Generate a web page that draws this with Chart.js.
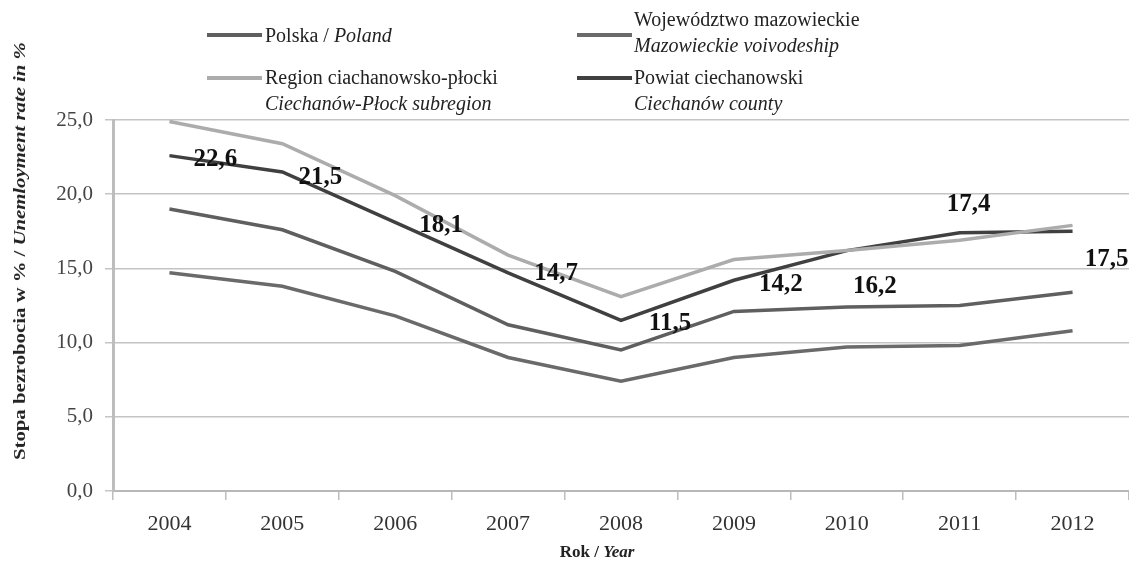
<!DOCTYPE html>
<html>
<head>
<meta charset="utf-8">
<script src="https://cdn.jsdelivr.net/npm/chart.js@4.4.1/dist/chart.umd.min.js"></script>
<style>
    body { margin: 0; background: #fff; }
    #wrap { position: relative; width: 1129px; height: 566px; font-family: "Liberation Serif", "Times New Roman", serif; color: #222; overflow: hidden; }
    #chart { position: absolute; left: 0; top: 0; }
    .sw { position: absolute; height: 4px; width: 55px; }
    .lg { position: absolute; font-size: 20px; line-height: 26px; white-space: nowrap; }
    #ytitle { position: absolute; left: 20px; top: 251px; transform: translate(-50%, -50%) rotate(-90deg) scaleX(1.22); font-weight: bold; font-size: 17px; white-space: nowrap; color: #222; }
    #xtitle { position: absolute; left: 597px; top: 552px; transform: translate(-50%, -50%); font-weight: bold; font-size: 17px; white-space: nowrap; color: #222; }
</style>
</head>
<body>
<div id="wrap">
    <canvas id="chart" width="1129" height="566"></canvas>

    <div class="sw" style="left:207px;top:33px;background:#5f5f5f"></div>
    <div class="lg" style="left:265px;top:22px">Polska / <i>Poland</i></div>

    <div class="sw" style="left:577px;top:33px;background:#6a6a6a"></div>
    <div class="lg" style="left:634px;top:6px">Województwo mazowieckie<br><i>Mazowieckie voivodeship</i></div>

    <div class="sw" style="left:207px;top:76px;background:#acacac"></div>
    <div class="lg" style="left:265px;top:64px">Region ciachanowsko-płocki<br><i>Ciechanów-Płock subregion</i></div>

    <div class="sw" style="left:577px;top:76px;background:#404040"></div>
    <div class="lg" style="left:634px;top:64px">Powiat ciechanowski<br><i>Ciechanów county</i></div>

    <div id="ytitle">Stopa bezrobocia w % / <i>Unemloyment rate in %</i></div>
    <div id="xtitle">Rok / <i>Year</i></div>
</div>

<script>
// values
const years = ['2004', '2005', '2006', '2007', '2008', '2009', '2010', '2011', '2012'];
const polska = [19.0, 17.6, 14.8, 11.2, 9.5, 12.1, 12.4, 12.5, 13.4];
const mazowieckie = [14.7, 13.8, 11.8, 9.0, 7.4, 9.0, 9.7, 9.8, 10.8];
const region = [24.9, 23.4, 19.9, 15.9, 13.1, 15.6, 16.2, 16.9, 17.9];
const powiat = [22.6, 21.5, 18.1, 14.7, 11.5, 14.2, 16.2, 17.4, 17.5];

// where each county label sits relative to its point (px)
const labelShift = [[46, 4], [38, 6], [46, 3], [48, 1], [49, 3], [47, 4], [28, 36], [9, -28], [34, 28]];

function fmt(v) {
    return v.toFixed(1).replace('.', ',');
}

const pointLabels = {
    id: 'pointLabels',
    afterDatasetsDraw(chart) {
        const meta = chart.getDatasetMeta(3);
        const ctx = chart.ctx;
        ctx.save();
        ctx.font = 'bold 25px "Liberation Serif"';
        ctx.fillStyle = '#111';
        ctx.textAlign = 'center';
        ctx.textBaseline = 'middle';
        meta.data.forEach((pt, i) => {
            ctx.fillText(fmt(powiat[i]), pt.x + labelShift[i][0], pt.y + labelShift[i][1]);
        });
        ctx.restore();
    }
};

const ctx = document.getElementById('chart').getContext('2d');
new Chart(ctx, {
    type: 'line',
    data: {
        labels: years,
        datasets: [
            { label: 'Polska / Poland', data: polska, borderColor: '#5f5f5f' },
            { label: 'Województwo mazowieckie', data: mazowieckie, borderColor: '#6a6a6a' },
            { label: 'Region ciachanowsko-płocki', data: region, borderColor: '#acacac' },
            { label: 'Powiat ciechanowski', data: powiat, borderColor: '#404040' }
        ]
    },
    options: {
        responsive: false,
        animation: false,
        devicePixelRatio: 1,
        elements: {
            line: { borderWidth: 3.5, tension: 0 },
            point: { radius: 0 }
        },
        layout: { padding: { top: 120, left: 0, right: 0, bottom: 0 } },
        plugins: {
            legend: { display: false },
            tooltip: { enabled: false }
        },
        scales: {
            x: {
                offset: true,
                grid: { offset: true, drawOnChartArea: false, color: '#bdbdbd', lineWidth: 1.5, tickLength: 9 },
                border: { color: '#b8b8b8', width: 2 },
                ticks: { color: '#333', padding: 11, font: { family: 'Liberation Serif', size: 22 } },
                afterFit(scale) { scale.height = 75; }
            },
            y: {
                min: 0,
                max: 25,
                ticks: {
                    stepSize: 5,
                    color: '#444',
                    padding: 12,
                    font: { family: 'Liberation Serif', size: 21 },
                    callback: v => fmt(v)
                },
                grid: { color: '#c4c4c4', lineWidth: 1.5, tickLength: 8 },
                border: { color: '#bdbdbd', width: 3 },
                afterFit(scale) { scale.width = 113; }
            }
        }
    },
    plugins: [pointLabels]
});
</script>
</body>
</html>
